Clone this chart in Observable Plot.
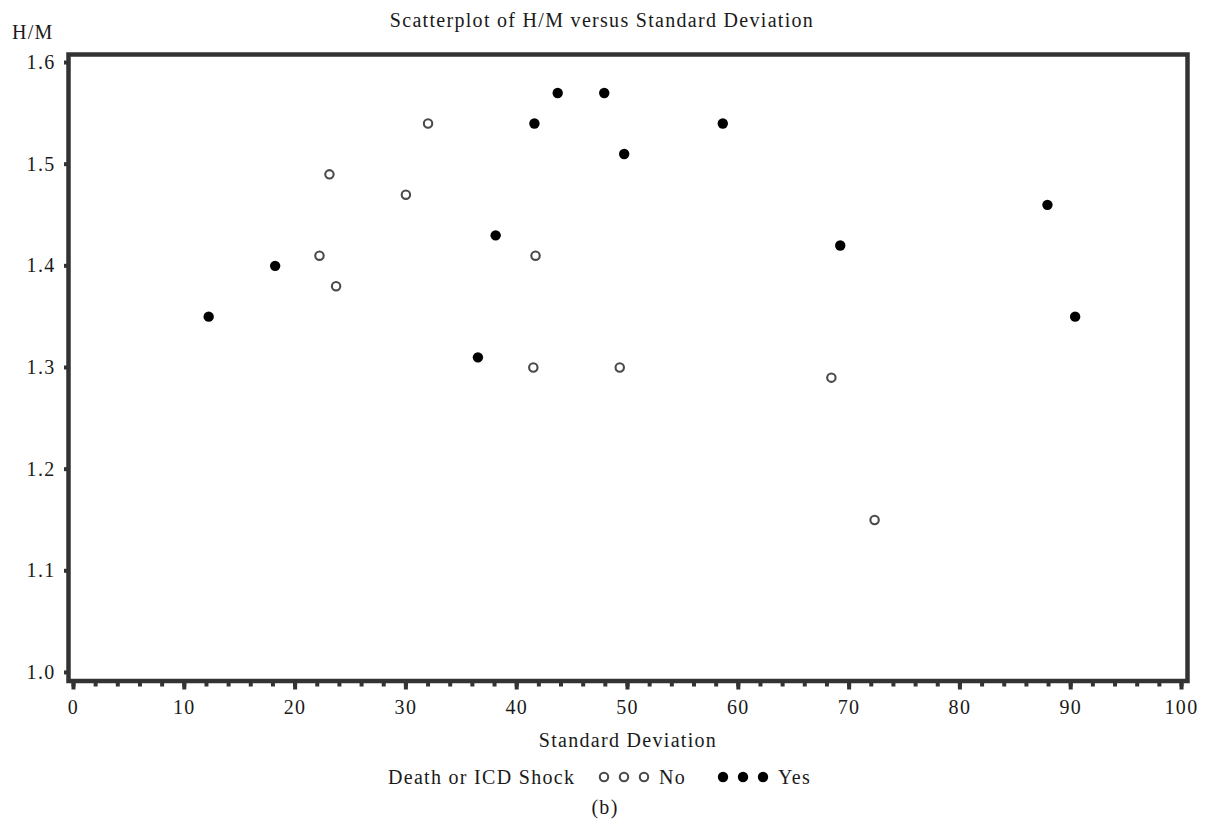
<!DOCTYPE html>
<html>
<head>
<meta charset="utf-8">
<script src="https://cdn.jsdelivr.net/npm/d3@7"></script>
<script src="https://cdn.jsdelivr.net/npm/@observablehq/plot@0.6"></script>
<style>
  html, body { margin: 0; padding: 0; background: #fff; }
  #wrap { position: relative; width: 1213px; height: 827px; }
  #wrap svg text { letter-spacing: 1.3px; }
  #overlay { position: absolute; left: 0; top: 0; pointer-events: none; }
  #overlay text { font-family: "Liberation Serif", "Times New Roman", serif; font-size: 20px; fill: #1a1a1a; letter-spacing: 1.3px; }
</style>
</head>
<body>
<div id="wrap"></div>
<script>
// Data
const noSD  = [22.2, 23.1, 23.7, 30.0, 32.0, 41.7, 41.5, 49.3, 68.4, 72.3];
const noHM  = [1.41, 1.49, 1.38, 1.47, 1.54, 1.41, 1.30, 1.30, 1.29, 1.15];
const yesSD = [12.2, 18.2, 36.5, 38.1, 41.6, 43.7, 47.9, 49.7, 58.6, 69.2, 87.9, 90.4];
const yesHM = [1.35, 1.40, 1.31, 1.43, 1.54, 1.57, 1.57, 1.51, 1.54, 1.42, 1.46, 1.35];
const xTicks = [0, 10, 20, 30, 40, 50, 60, 70, 80, 90, 100];
const xMinorTicks = d3.range(0, 101, 2);
const yTicks = [1.0, 1.1, 1.2, 1.3, 1.4, 1.5, 1.6];

const noData = noSD.map((x, i) => ({sd: x, hm: noHM[i]}));
const yesData = yesSD.map((x, i) => ({sd: x, hm: yesHM[i]}));

const ink = "#333";
const chart = Plot.plot({
  width: 1213,
  height: 827,
  marginLeft: 68,
  marginRight: 26,
  marginTop: 54,
  marginBottom: 146.5,
  style: {fontFamily: "'Liberation Serif', 'Times New Roman', serif", fontSize: "20px", color: "#1a1a1a", background: "#fff"},
  x: {domain: [-0.45, 100.54], label: null},
  y: {domain: [0.9916, 1.6079], label: null},
  marks: [
    Plot.axisX({ticks: xMinorTicks, tickSize: 6, strokeWidth: 4, stroke: ink, tickFormat: null, text: null}),
    Plot.axisX({ticks: xTicks, tickSize: 9, strokeWidth: 4, stroke: ink, tickPadding: 10, tickFormat: d => String(d), label: null}),
    Plot.axisY({ticks: yTicks, tickSize: 4, strokeWidth: 4, stroke: ink, tickPadding: 9, tickFormat: d => d.toFixed(1), label: null}),
    Plot.frame({stroke: ink, strokeWidth: 4.5}),
    Plot.dot(noData, {x: "sd", y: "hm", r: 4.2, fill: "white", stroke: "#4a4a4a", strokeWidth: 2.1}),
    Plot.dot(yesData, {x: "sd", y: "hm", r: 5.2, fill: "black", stroke: "none"})
  ]
});
document.getElementById("wrap").appendChild(chart);

// Annotation overlay: title, axis titles, legend and caption
const ov = d3.select("#wrap").append("svg")
  .attr("id", "overlay").attr("width", 1213).attr("height", 827);
ov.append("text").attr("x", 602).attr("y", 27).attr("text-anchor", "middle")
  .text("Scatterplot of H/M versus Standard Deviation");
ov.append("text").attr("x", 12).attr("y", 39).text("H/M");
ov.append("text").attr("x", 628).attr("y", 747).attr("text-anchor", "middle").text("Standard Deviation");
ov.append("text").attr("x", 388).attr("y", 784).text("Death or ICD Shock");
[604, 624, 644].forEach(cx => ov.append("circle").attr("cx", cx).attr("cy", 777).attr("r", 4.2)
  .attr("fill", "white").attr("stroke", "#4a4a4a").attr("stroke-width", 2.1));
ov.append("text").attr("x", 659).attr("y", 784).text("No");
[723, 743, 763].forEach(cx => ov.append("circle").attr("cx", cx).attr("cy", 777).attr("r", 5.2)
  .attr("fill", "black"));
ov.append("text").attr("x", 778).attr("y", 784).text("Yes");
ov.append("text").attr("x", 605).attr("y", 814).attr("text-anchor", "middle").text("(b)");
</script>
</body>
</html>
